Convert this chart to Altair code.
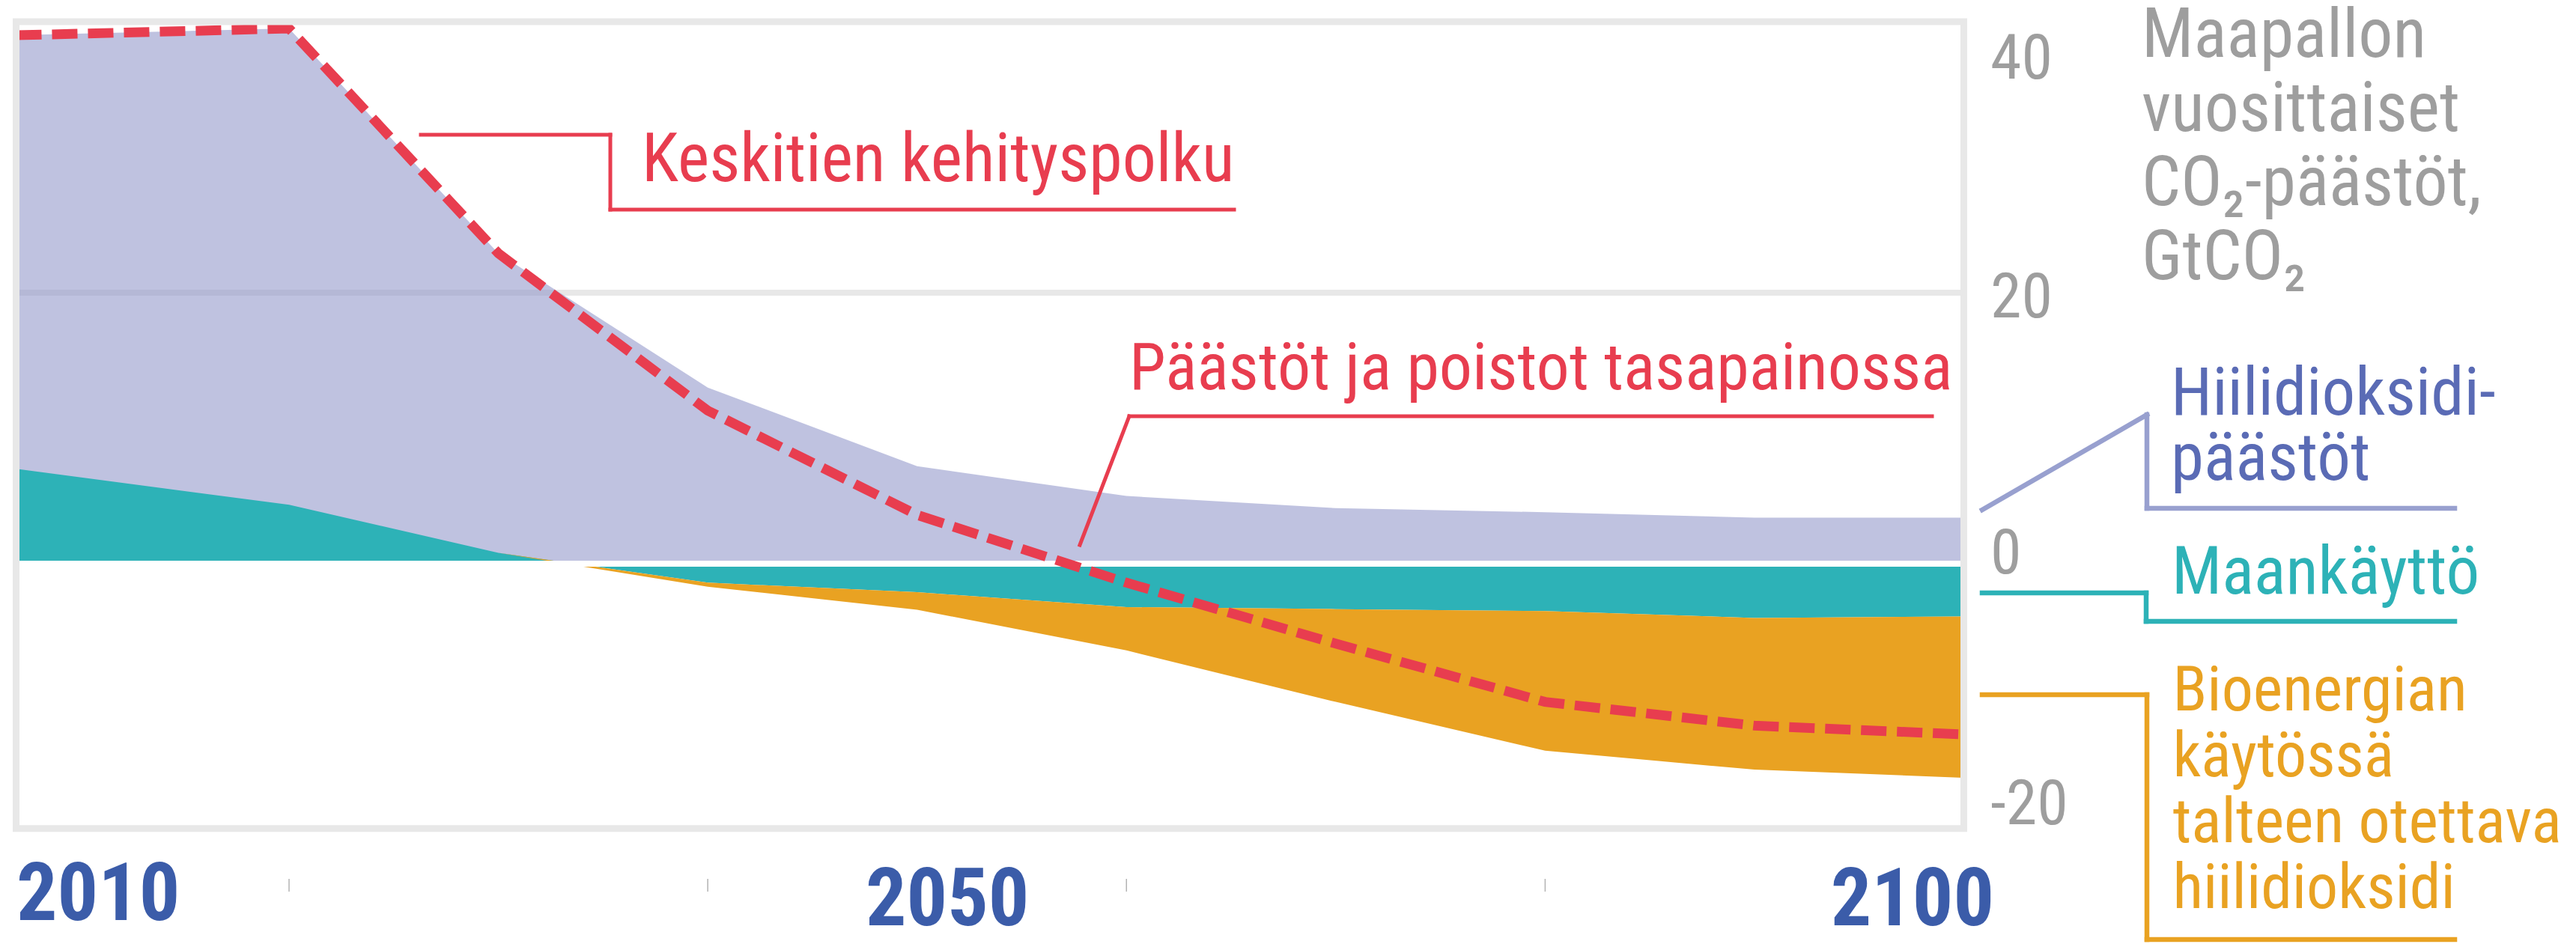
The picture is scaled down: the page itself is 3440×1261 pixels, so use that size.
import altair as alt
import pandas as pd

# ---------------- data ----------------
years = [2010, 2020, 2030, 2040, 2050, 2060, 2070, 2080, 2090, 2100]
co2_fossil = [32.0, 35.15, 22.1, 13.0, 7.2, 5.0, 4.1, 3.8, 3.4, 3.4]      # Hiilidioksidipäästöt
land_use = [7.0, 4.35, 0.8, -1.4, -2.1, -3.2, -3.35, -3.5, -4.0, -3.9]    # Maankäyttö
beccs = [0.0, 0.0, 0.0, -0.3, -1.3, -3.2, -6.85, -10.3, -11.2, -11.9]     # Bioenergia + CCS
net = [39.0, 39.5, 22.9, 11.3, 3.6, -1.4, -5.9, -10.2, -11.95, -12.6]     # Keskitien kehityspolku

year_labels = [2010, 2050, 2100]
minor_ticks = [2020, 2040, 2060, 2080]
y_ticks = [40, 20, 0, -20]
grid_values = [20]
zero_values = [0]
frame_top = [40]
frame_bottom = [-19.55]

title_lines = ["Maapallon", "vuosittaiset", "CO\u2082-päästöt,", "GtCO\u2082"]
label_path = "Keskitien kehityspolku"
label_balance = "Päästöt ja poistot tasapainossa"
label_co2 = ["Hiilidioksidi-", "päästöt"]
label_land = "Maankäyttö"
label_bio = ["Bioenergian", "käytössä", "talteen otettava", "hiilidioksidi"]

# ---------------- styles / layout ----------------
FONT = "Liberation Sans Narrow, Roboto Condensed, DejaVu Sans Condensed, Liberation Sans, sans-serif"
LAV = "#8e93c8"
TEAL = "#2db2b7"
ORANGE = "#e9a222"
RED = "#e83d4f"
FRAME = "#e8e8e8"
BLUE = "#3b5ca9"
GRAY = "#9e9e9e"
LAV_TXT = "#5a6bb5"
LAV_LINE = "#98a0cf"

W = 2601
H = 1086

df = pd.DataFrame({"year": years, "co2": co2_fossil, "land": land_use,
                   "beccs": beccs, "net": net})
df["pos_top"] = df["co2"] + df["land"].clip(lower=0)
df["zero"] = 0.0
df["bio_bottom"] = df["land"] + df["beccs"]

xscale = alt.Scale(domain=[2010, 2020, 2100], range=[0, 364.5, W], nice=False, zero=False)
xaxis = alt.Axis(
    values=year_labels, title=None, grid=False, domain=False, ticks=False, format="d",
    labelFont=FONT, labelFontSize=108, labelFontWeight="bold", labelColor=BLUE,
    labelAlign={"condition": [{"test": "datum.value == 2010", "value": "left"},
                              {"test": "datum.value == 2100", "value": "right"}],
                "value": "center"},
    labelOffset={"condition": {"test": "datum.value == 2010", "value": 0}, "value": 40},
    labelPadding={"condition": {"test": "datum.value == 2010", "value": 28}, "value": 35},
    labelFlush=False, labelOverlap=False, labelBound=False, labelLimit=1000,
)
yscale = alt.Scale(domain=[-20, 40], nice=False, zero=False)
yaxis = alt.Axis(
    orient="right", values=y_ticks, title=None, grid=False, domain=False, ticks=False,
    labelExpr="'' + datum.value",
    labelFont=FONT, labelFontSize=84, labelColor=GRAY, labelAlign="left", labelPadding=35,
    labelBaseline="middle",
    labelOffset={"condition": [{"test": "datum.value == 40", "value": 50},
                               {"test": "datum.value == 20", "value": 7},
                               {"test": "datum.value == 0", "value": -13}],
                 "value": -40},
    labelFlush=False, labelOverlap=False, labelBound=False, labelLimit=1000,
)


def X():
    return alt.X("year:Q", scale=xscale, axis=xaxis)


def Y(field):
    return alt.Y(field, type="quantitative", scale=yscale, axis=yaxis)


dummy = pd.DataFrame({"d": [0]})

grid = alt.Chart(pd.DataFrame({"v": grid_values})).mark_rule(
    color=FRAME, strokeWidth=8).encode(y=Y("v"))

lavender = alt.Chart(df).mark_area(color=LAV, opacity=0.565).encode(
    x=X(), y=Y("pos_top"), y2="zero")
teal = alt.Chart(df).mark_area(color=TEAL).encode(x=X(), y=Y("land"), y2="zero")
orange = alt.Chart(df).mark_area(color=ORANGE).encode(x=X(), y=Y("bio_bottom"), y2="land")

zero_line = alt.Chart(pd.DataFrame({"v": zero_values})).mark_rule(
    color="white", strokeWidth=8).encode(y=Y("v"))

net_line = alt.Chart(df).mark_line(color=RED, strokeWidth=13, strokeDash=[34, 14]).encode(
    x=X(), y=Y("net"))

frame = alt.Chart(pd.DataFrame({"top": frame_top, "bottom": frame_bottom})).mark_rect(
    color=FRAME, fillOpacity=0, stroke=FRAME, strokeWidth=9).encode(
    x=alt.value(0), x2=alt.value(W), y=Y("top"), y2="bottom")

ticks = alt.Chart(pd.DataFrame({"year": minor_ticks})).mark_rule(
    color="#b3b3b3", strokeWidth=1.5).encode(x=X(), y=alt.value(1145), y2=alt.value(1162))


def text(t, x, y, color, size, line_height=None, weight="normal"):
    kw = dict(text=t, font=FONT, fontSize=size, color=color, align="left",
              baseline="alphabetic", fontWeight=weight)
    if line_height is not None:
        kw["lineHeight"] = line_height
    return alt.Chart(dummy).mark_text(**kw).encode(x=alt.value(x), y=alt.value(y))


def leader(points, color, width):
    layers = []
    for (x0, y0), (x1, y1) in zip(points[:-1], points[1:]):
        layers.append(alt.Chart(dummy).mark_rule(
            color=color, strokeWidth=width, strokeCap="square").encode(
            x=alt.value(x0), y=alt.value(y0), x2=alt.value(x1), y2=alt.value(y1)))
    return layers


annotations = [
    text(title_lines, 2838.5, 47, GRAY, 92, line_height=99),
    text(label_path, 835.5, 213, RED, 90),
    text(label_balance, 1486.5, 491, RED, 88),
    text(label_co2, 2877.5, 525, LAV_TXT, 89, line_height=87),
    text(label_land, 2878.5, 764, TEAL, 89),
    text(label_bio, 2880, 920, ORANGE, 84, line_height=88),
]
leaders = (
    leader([(540.5, 151), (793.5, 151), (793.5, 251), (1626.5, 251)], RED, 5)
    + leader([(1420.5, 699), (1486.5, 527), (2558.5, 527)], RED, 5)
    + leader([(2625.5, 652), (2845.5, 525), (2845.5, 650), (3256.5, 650)], LAV_LINE, 6.5)
    + leader([(2625.5, 763), (2844.5, 763), (2844.5, 801), (3256.5, 801)], TEAL, 6.5)
    + leader([(2625.5, 899), (2845.5, 899), (2845.5, 1226), (3256.5, 1226)], ORANGE, 6.5)
)

chart = alt.layer(
    grid, lavender, teal, orange, zero_line, net_line, frame, ticks,
    *leaders, *annotations
).properties(
    width=W, height=H,
    autosize=alt.AutoSizeParams(type="none"),
    padding={"left": 13.5, "top": 21, "right": 809, "bottom": 146},
).configure_view(strokeWidth=0)

chart.save("out.html", embed_options={"renderer": "svg", "actions": False})
